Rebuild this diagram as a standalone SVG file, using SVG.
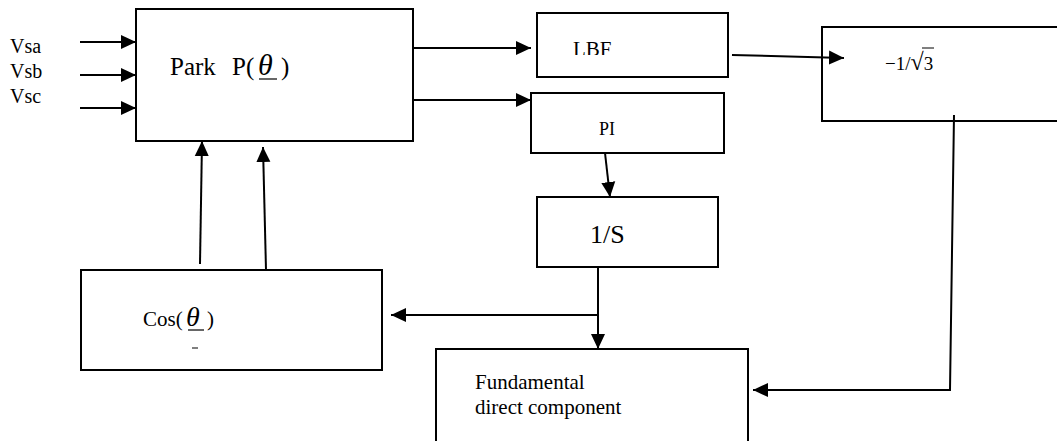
<svg xmlns="http://www.w3.org/2000/svg" width="1057" height="441" viewBox="0 0 1057 441">
<defs>
<style>
.box{fill:#fff;stroke:#000;stroke-width:2}
.ln{fill:none;stroke:#000;stroke-width:2}
.t{font-family:"Liberation Serif","Times New Roman",serif;fill:#000}
.th{font-family:"Liberation Serif","Times New Roman",serif;font-style:italic;fill:#000}
</style>
<marker id="ah" markerUnits="userSpaceOnUse" markerWidth="16" markerHeight="16" refX="15" refY="7" orient="auto" viewBox="0 0 16 14">
<path d="M0,0 L15,7 L0,14 z" fill="#000"/>
</marker>
<clipPath id="lbfclip"><rect x="537" y="13" width="191" height="42"/></clipPath>
</defs>
<rect width="1057" height="441" fill="#fff"/>

<g id="inputs">
<text class="t" x="10" y="53" font-size="20">Vsa</text>
<text class="t" x="10" y="78" font-size="20">Vsb</text>
<text class="t" x="10" y="103" font-size="20">Vsc</text>
</g>

<g id="park">
<rect class="box" x="136" y="9" width="277" height="132"/>
<text class="t" x="170" y="75" font-size="25">Park</text>
<text class="t" x="232" y="75" font-size="25">P(</text>
<text class="th" x="258" y="75" font-size="30">θ</text>
<line x1="259" y1="79" x2="277" y2="79" stroke="#000" stroke-width="1.2"/>
<text class="t" x="281" y="75" font-size="25">)</text>
</g>

<g id="lbf">
<rect class="box" x="537" y="13" width="191" height="64"/>
<text class="t" x="573" y="56" font-size="21" clip-path="url(#lbfclip)">LBF</text>
</g>

<g id="pi">
<rect class="box" x="531" y="93" width="193" height="60"/>
<text class="t" x="599" y="135" font-size="18">PI</text>
</g>

<g id="gain">
<rect class="box" x="822" y="27" width="250" height="94"/>
<text class="t" x="885" y="70" font-size="19">−1/<tspan font-size="24">√</tspan>3</text>
<line x1="922" y1="48" x2="934" y2="48" stroke="#000" stroke-width="1"/>
</g>

<g id="integrator">
<rect class="box" x="537" y="197" width="181" height="70"/>
<text class="t" x="590" y="243" font-size="26">1/S</text>
</g>

<g id="cos">
<rect class="box" x="81" y="270" width="301" height="100"/>
<text class="t" x="143" y="326" font-size="21">Cos(</text>
<text class="th" x="186" y="326" font-size="28">θ</text>
<line x1="188" y1="330" x2="204" y2="330" stroke="#000" stroke-width="1.2"/>
<text class="t" x="207" y="326" font-size="21">)</text>
<line x1="192" y1="348" x2="198" y2="348" stroke="#000" stroke-width="1"/>
</g>

<g id="fundamental">
<rect class="box" x="436" y="349" width="312" height="110"/>
<text class="t" x="475" y="389" font-size="21">Fundamental</text>
<text class="t" x="475" y="414" font-size="21">direct component</text>
</g>

<g id="connectors">
<line class="ln" x1="80" y1="42" x2="136" y2="42" marker-end="url(#ah)"/>
<line class="ln" x1="80" y1="75" x2="136" y2="75" marker-end="url(#ah)"/>
<line class="ln" x1="80" y1="108" x2="136" y2="108" marker-end="url(#ah)"/>
<line class="ln" x1="413" y1="48" x2="531" y2="48" marker-end="url(#ah)"/>
<line class="ln" x1="413" y1="100" x2="531" y2="100" marker-end="url(#ah)"/>
<line class="ln" x1="732" y1="55" x2="844" y2="58" marker-end="url(#ah)"/>
<line class="ln" x1="605" y1="153" x2="610" y2="197" marker-end="url(#ah)"/>
<line class="ln" x1="200" y1="264" x2="202" y2="141" marker-end="url(#ah)"/>
<line class="ln" x1="266" y1="270" x2="263" y2="147" marker-end="url(#ah)"/>
<line class="ln" x1="598" y1="267" x2="598" y2="349" marker-end="url(#ah)"/>
<line class="ln" x1="598" y1="315" x2="391" y2="315" marker-end="url(#ah)"/>
<polyline class="ln" points="954,115 950,390 753,390" marker-end="url(#ah)"/>
</g>
</svg>
